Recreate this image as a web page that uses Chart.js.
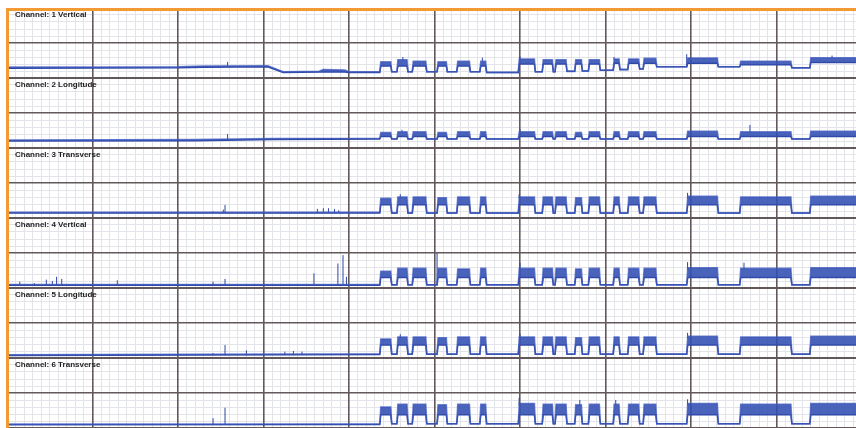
<!DOCTYPE html>
<html>
<head>
<meta charset="utf-8">
<script src="https://cdn.jsdelivr.net/npm/chart.js@4.4.1/dist/chart.umd.min.js"></script>
<style>
  html, body { margin: 0; padding: 0; background: #fff; overflow: hidden; width: 856px; height: 428px; }
  #moldura { position: absolute; left: 6px; top: 8px; width: 900px; height: 440px; border-left: 3px solid #f39a35; border-top: 3px solid #f39a35; box-sizing: border-box; z-index: 30; pointer-events: none; }
  .painel { position: absolute; left: 0; width: 856px; height: 72px; }
  .rotulo { position: absolute; left: 15px; font: bold 8px "Liberation Sans", Arial, sans-serif; color: #1e1e1e; z-index: 20; white-space: nowrap; }
</style>
</head>
<body>
<div id="moldura"></div>
<div id="paineis"></div>
<script>
// --- Dados ---
const nomesCanais = ["Channel: 1 Vertical", "Channel: 2 Longitude", "Channel: 3 Transverse",
                     "Channel: 4 Vertical", "Channel: 5 Longitude", "Channel: 6 Transverse"];

// Eixo X: 10 unidades por divisão maior; eixo Y: 0..10 por canal
const X_MAX = 99.3;

// Blocos de atividade (início/fim) comuns a todos os canais
const blocoInicio = [43.6, 45.6, 47.4, 50.3, 52.6, 55.3, 59.8, 62.6, 64.1, 66.4, 68.0, 70.9, 72.6, 74.4, 79.5, 85.7, 93.9];
const blocoFim    = [45.0, 46.9, 49.1, 51.5, 54.2, 56.1, 61.8, 63.9, 65.5, 67.3, 69.4, 71.7, 74.0, 76.0, 83.2, 91.8, 99.9];

// Canal 1
const pre1 = [[0, 1.4, 1.55], [20, 1.45, 1.6], [23, 1.55, 1.7], [30.5, 1.6, 1.75], [32.3, 0.8, 0.9], [36.5, 0.85, 0.95], [37, 0.85, 1.2], [39.5, 0.85, 1.15], [40, 0.8, 0.9], [43.6, 0.8, 0.9]];
const baixo1 = [1.7, 1.7, 1.7, 1.7, 1.7, 1.7, 2.0, 2.0, 2.0, 2.0, 2.0, 2.1, 2.1, 2.1, 2.1, 1.9, 2.2];
const alto1  = [2.3, 2.6, 2.4, 2.3, 2.4, 2.4, 2.7, 2.6, 2.6, 2.6, 2.6, 2.7, 2.7, 2.8, 2.85, 2.4, 2.9];
const vale1  = [0.9, 0.9, 0.9, 0.9, 0.9, 0.8, 0.9, 0.9, 0.95, 1.0, 1.1, 1.2, 1.3, 1.6, 1.6, 1.45, 1.5];
const picos1 = [[25.8, 1.7, 2.3], [46.3, 2.5, 3.0], [55.6, 2.4, 2.9], [60.0, 2.6, 3.1], [79.5, 1.6, 3.4], [71.0, 2.6, 3.0], [96.5, 2.8, 3.2]];

// Canal 2
const pre2 = [[0, 1.0, 1.15], [22, 1.05, 1.2], [31, 1.2, 1.35], [43.6, 1.3, 1.4]];
const baixo2 = [1.65, 1.65, 1.65, 1.65, 1.65, 1.65, 1.65, 1.65, 1.65, 1.65, 1.65, 1.65, 1.65, 1.65, 1.65, 1.65, 1.65];
const alto2  = [2.2, 2.3, 2.3, 2.2, 2.3, 2.3, 2.3, 2.3, 2.3, 2.2, 2.3, 2.3, 2.3, 2.3, 2.4, 2.3, 2.4];
const vale2  = [1.3, 1.3, 1.3, 1.3, 1.3, 1.3, 1.3, 1.3, 1.3, 1.3, 1.3, 1.3, 1.3, 1.3, 1.3, 1.3, 1.3];
const picos2 = [[25.8, 1.2, 2.0], [86.9, 2.2, 3.3], [46.2, 2.2, 2.6], [60.0, 2.2, 2.7]];

// Canal 3
const pre3 = [[0, 0.7, 0.8], [43.6, 0.7, 0.8]];
const baixo3 = [1.9, 1.9, 1.9, 1.9, 1.9, 1.9, 1.9, 1.9, 1.9, 1.9, 1.9, 1.9, 1.9, 1.9, 1.9, 1.9, 1.9];
const alto3  = [2.8, 3.0, 3.0, 2.9, 3.0, 3.0, 3.0, 3.0, 3.0, 2.9, 3.0, 3.0, 3.0, 3.0, 3.1, 3.0, 3.1];
const vale3  = [0.7, 0.7, 0.7, 0.7, 0.7, 0.7, 0.7, 0.7, 0.7, 0.7, 0.7, 0.7, 0.7, 0.7, 0.7, 0.7, 0.7];
const picos3 = [[24.1, 0.7, 0.95], [25.3, 0.7, 1.2], [25.5, 0.7, 1.85], [36.3, 0.7, 1.3], [37.0, 0.7, 1.4], [37.6, 0.7, 1.4], [38.3, 0.7, 1.3], [38.8, 0.7, 1.1],
                [46.0, 2.8, 3.4], [59.9, 2.8, 3.4], [79.6, 2.8, 3.6]];

// Canal 4
const pre4 = [[0, 0.4, 0.5], [43.6, 0.4, 0.5]];
const baixo4 = [1.5, 1.5, 1.5, 1.5, 1.5, 1.5, 1.5, 1.5, 1.5, 1.5, 1.5, 1.5, 1.5, 1.5, 1.5, 1.5, 1.5];
const alto4  = [2.4, 2.8, 2.8, 2.8, 2.7, 2.8, 2.8, 2.8, 2.8, 2.7, 2.8, 2.8, 2.8, 2.8, 2.9, 2.8, 2.9];
const vale4  = [0.45, 0.45, 0.45, 0.45, 0.45, 0.45, 0.45, 0.45, 0.45, 0.45, 0.45, 0.45, 0.45, 0.45, 0.45, 0.45, 0.45];
const picos4 = [[1.5, 0.4, 0.9], [3.2, 0.4, 0.7], [4.6, 0.4, 1.2], [5.3, 0.4, 1.0], [5.8, 0.4, 1.6], [6.4, 0.4, 1.3], [12.9, 0.4, 1.1],
                [24.1, 0.4, 0.9], [25.5, 0.4, 1.3], [35.9, 0.4, 2.1], [38.7, 0.4, 3.5], [39.3, 0.4, 4.7], [39.7, 0.4, 1.6], [50.3, 0.45, 5.0],
                [60.0, 2.6, 3.6], [79.6, 2.6, 3.7], [86.2, 2.6, 3.6]];

// Canal 5
const pre5 = [[0, 0.35, 0.45], [43.6, 0.5, 0.6]];
const baixo5 = [1.85, 1.85, 1.85, 1.85, 1.85, 1.85, 1.85, 1.85, 1.85, 1.85, 1.85, 1.85, 1.85, 1.85, 1.85, 1.85, 1.85];
const alto5  = [2.7, 3.0, 3.0, 2.9, 3.0, 3.0, 3.0, 3.0, 3.0, 2.9, 3.0, 3.0, 3.0, 3.0, 3.1, 3.0, 3.1];
const vale5  = [0.55, 0.55, 0.55, 0.55, 0.55, 0.55, 0.55, 0.55, 0.55, 0.55, 0.55, 0.55, 0.55, 0.55, 0.55, 0.55, 0.55];
const picos5 = [[24.1, 0.35, 0.7], [25.5, 0.35, 1.85], [28.0, 0.35, 1.1], [32.5, 0.4, 0.9], [33.5, 0.4, 1.0], [34.5, 0.4, 0.9],
                [46.0, 2.8, 3.4], [60.0, 2.8, 3.5], [79.6, 2.8, 3.6]];

// Canal 6
const pre6 = [[0, 0.45, 0.55], [43.6, 0.5, 0.6]];
const baixo6 = [1.9, 1.9, 1.9, 1.9, 1.9, 1.9, 1.9, 1.9, 1.9, 1.9, 1.9, 1.9, 1.9, 1.9, 1.9, 1.9, 1.9];
const alto6  = [3.0, 3.4, 3.4, 3.3, 3.4, 3.4, 3.5, 3.4, 3.4, 3.3, 3.4, 3.4, 3.4, 3.4, 3.5, 3.4, 3.5];
const vale6  = [0.6, 0.6, 0.6, 0.6, 0.6, 0.6, 0.6, 0.6, 0.6, 0.6, 0.6, 0.6, 0.6, 0.6, 0.6, 0.6, 0.6];
const picos6 = [[24.1, 0.45, 1.4], [25.5, 0.45, 2.9], [59.9, 3.2, 4.3], [67.0, 3.2, 4.0], [71.2, 3.2, 4.0], [79.6, 3.2, 4.1]];

const canais = [
    { pre: pre1, baixo: baixo1, alto: alto1, vale: vale1, picos: picos1 },
    { pre: pre2, baixo: baixo2, alto: alto2, vale: vale2, picos: picos2 },
    { pre: pre3, baixo: baixo3, alto: alto3, vale: vale3, picos: picos3 },
    { pre: pre4, baixo: baixo4, alto: alto4, vale: vale4, picos: picos4 },
    { pre: pre5, baixo: baixo5, alto: alto5, vale: vale5, picos: picos5 },
    { pre: pre6, baixo: baixo6, alto: alto6, vale: vale6, picos: picos6 }
];

// --- Estilo ---
const AZUL = '#2f47a3';
const AZUL_BORDA = 'rgba(62, 88, 190, 0.75)';
const AZUL_FAIXA = 'rgba(50, 78, 178, 0.88)';
const COR_MAIOR = '#62585a';
const COR_MENOR = '#e3e3ea';
const ALTURA_PAINEL = 70;

// Monta as curvas superior e inferior de um canal
function montarEnvelope(canal) {
    const sup = [], inf = [];
    canal.pre.forEach(([x, a, b]) => { inf.push({ x, y: a }); sup.push({ x, y: b }); });
    let base = canal.pre[canal.pre.length - 1][1];
    blocoInicio.forEach((s, i) => {
        const e = blocoFim[i];
        inf.push({ x: s, y: base }); sup.push({ x: s, y: base });
        inf.push({ x: s + 0.12, y: canal.baixo[i] }); sup.push({ x: s + 0.12, y: canal.alto[i] });
        inf.push({ x: e - 0.12, y: canal.baixo[i] }); sup.push({ x: e - 0.12, y: canal.alto[i] });
        base = canal.vale[i];
        inf.push({ x: e, y: base }); sup.push({ x: e, y: base });
    });
    return { sup, inf };
}

// Picos como segmentos verticais separados por null
function montarPicos(picos) {
    const pts = [];
    picos.forEach(([x, de, ate]) => {
        pts.push({ x, y: de }, { x, y: ate }, { x, y: null });
    });
    return pts;
}

// Marcas das grades: menores e maiores separadas para a maior ficar por cima
const marcasX = [];
for (let i = 0; i <= 99; i++) marcasX.push(i);
const marcasXMaior = [10, 20, 30, 40, 50, 60, 70, 80, 90];
const marcasY = [1, 2, 3, 4, 6, 7, 8, 9];
const marcasYMaior = [0, 5];

function eixoGrade(eixo, posicao, min, max, marcas, grid) {
    return {
        type: 'linear', axis: eixo, position: posicao, min, max,
        afterBuildTicks: a => { a.ticks = marcas.map(v => ({ value: v })); },
        ticks: { display: false },
        border: { display: false },
        grid: Object.assign({ drawTicks: false }, grid)
    };
}

const paineis = document.getElementById('paineis');

canais.forEach((canal, k) => {
    const canvas = document.createElement('canvas');
    canvas.className = 'painel';
    canvas.width = 856;
    canvas.height = 72;
    canvas.style.top = `${7 + k * ALTURA_PAINEL}px`;
    canvas.style.zIndex = 10 - k; // painel de cima fica por cima (linha grossa inferior)
    paineis.appendChild(canvas);

    const rotulo = document.createElement('div');
    rotulo.className = 'rotulo';
    rotulo.innerText = nomesCanais[k];
    rotulo.style.top = `${10 + k * ALTURA_PAINEL}px`;
    paineis.appendChild(rotulo);

    const { sup, inf } = montarEnvelope(canal);

    new Chart(canvas.getContext('2d'), {
        type: 'line',
        data: {
            datasets: [
                { data: sup, borderColor: AZUL_BORDA, borderWidth: 1.6, pointRadius: 0, fill: '+1', backgroundColor: AZUL_FAIXA, tension: 0 },
                { data: inf, borderColor: AZUL, borderWidth: 1.5, pointRadius: 0, fill: false, tension: 0 },
                { data: montarPicos(canal.picos), borderColor: AZUL, borderWidth: 1, pointRadius: 0, fill: false, spanGaps: false }
            ]
        },
        options: {
            responsive: false,
            animation: false,
            events: [],
            layout: { padding: { left: 7, right: 0, top: 1, bottom: 1 } },
            plugins: { legend: { display: false }, tooltip: { enabled: false } },
            scales: {
                x: eixoGrade('x', 'bottom', 0, X_MAX, marcasX, { z: -3, color: COR_MENOR, lineWidth: 1 }),
                y: eixoGrade('y', 'left', 0, 10, marcasY, { z: -3, color: COR_MENOR, lineWidth: 1 }),
                xMaior: eixoGrade('x', 'bottom', 0, X_MAX, marcasXMaior, { z: -2, color: COR_MAIOR, lineWidth: 1.6 }),
                yMaior: eixoGrade('y', 'left', 0, 10, marcasYMaior, { z: -1, color: COR_MAIOR, lineWidth: c => c.tick.value === 0 ? 2.6 : 1.6 })
            }
        }
    });
});
</script>
</body>
</html>
